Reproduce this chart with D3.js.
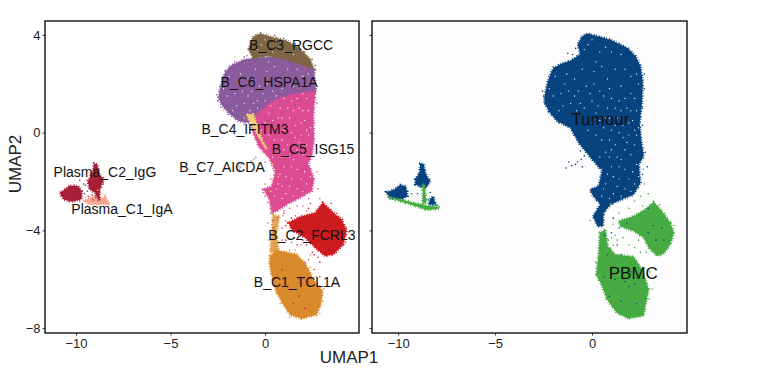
<!DOCTYPE html>
<html>
<head>
<meta charset="utf-8">
<script src="https://cdn.jsdelivr.net/npm/d3@7"></script>
<style>
  body { margin: 0; background: #fff; }
  text { font-family: "Liberation Sans", Arial, sans-serif; }
</style>
</head>
<body>
<svg id="chart" width="757" height="371"></svg>
<script>
// cluster outlines and dots, all in UMAP units
const brown_outline = [[-0.88,3.42],[-0.62,3.93],[-0.26,4.06],[0.35,3.92],[1.15,3.76],[1.85,3.42],[2.38,3.01],[2.59,2.6],[1.85,2.8],[0.97,3.03],[0.09,3.14],[-0.62,3.03]];
const purple_outline = [[-2.47,1.43],[-2.38,1.84],[-2.17,2.39],[-1.85,2.73],[-1.15,2.98],[-0.44,3.07],[0.62,3.11],[1.85,2.87],[2.59,2.57],[2.7,1.64],[1.5,1.5],[0.62,1.3],[0.09,0.96],[-0.44,0.68],[-0.88,0.41],[-1.41,0.48],[-1.85,0.75],[-2.24,1.07]];
const pink_outline = [[0.09,1.09],[0.62,1.37],[1.5,1.57],[2.65,1.71],[2.56,0.68],[2.59,-0.27],[2.47,-0.96],[2.29,-1.23],[2.59,-1.91],[2.47,-2.39],[1.85,-2.66],[1.15,-2.94],[0.62,-3.21],[0.35,-3.28],[0.23,-2.73],[-0.09,-2.32],[0.35,-2.19],[0.53,-1.64],[0.26,-1.09],[-0.35,-0.55],[-0.71,0.14],[-0.44,0.75]];
const yellow_outline = [[-0.97,0.75],[-0.62,0.75],[-0.1,-0.4],[0.09,-0.68],[-0.26,-0.27],[-0.79,0.41]];
const red_outline = [[3.62,-3.28],[4.06,-3.55],[4.32,-4.03],[4.14,-4.58],[3.62,-4.99],[3.17,-5.05],[2.65,-4.71],[2.12,-4.3],[1.41,-3.96],[1.23,-3.69],[1.85,-3.44],[2.65,-3.28],[3.05,-2.87],[3.35,-3.07]];
const orange_outline = [[0.26,-5.05],[0.62,-4.81],[1.68,-4.99],[2.17,-5.4],[2.56,-6.01],[3.05,-6.49],[2.95,-7.04],[2.73,-7.45],[1.94,-7.62],[1.32,-7.45],[0.97,-7.04],[0.62,-6.56],[0.35,-5.87],[0.23,-5.33]];
const orange_tail = [[0.41,-3.35],[0.76,-3.42],[0.62,-4.1],[0.71,-4.85],[0.26,-4.92],[0.35,-4.1]];
const igg_outline1 = [[-10.85,-2.46],[-10.58,-2.32],[-10.32,-2.16],[-9.88,-2.19],[-9.7,-2.39],[-9.7,-2.73],[-10.23,-2.83],[-10.67,-2.73]];
const igg_outline2 = [[-9.38,-1.98],[-9.17,-1.71],[-9.03,-1.26],[-8.87,-1.3],[-8.77,-1.71],[-8.52,-1.91],[-8.73,-2.32],[-8.77,-2.8],[-8.99,-2.46],[-9.29,-2.32]];
const iga_outline = [[-9.61,-2.8],[-8.91,-2.53],[-8.64,-2.73],[-8.47,-2.6],[-8.2,-2.94],[-9.26,-2.94]];

const tumour_outline = [[-2.46,1.43],[-2.32,1.98],[-2.15,2.39],[-1.98,2.66],[-1.55,2.83],[-1.12,2.94],[-0.6,3.21],[-0.74,3.62],[-0.52,3.93],[-0.26,4.06],[0.26,3.96],[0.95,3.8],[1.81,3.48],[2.24,3.14],[2.5,2.73],[2.62,2.05],[2.58,1.23],[2.46,0.41],[2.53,-0.27],[2.67,-0.96],[2.41,-1.3],[2.5,-2.05],[2.15,-2.53],[1.55,-2.73],[0.95,-2.94],[0.6,-3.28],[0.57,-3.83],[0.29,-3.83],[0.05,-3.42],[0.43,-2.94],[0,-2.53],[-0.09,-2.32],[0.34,-2.19],[0.52,-1.57],[0,-1.09],[-0.69,-0.41],[-1.12,0.2],[-1.81,0.48],[-2.24,0.89],[-2.44,1.23]];
const tumour_plasma1 = [[-10.62,-2.43],[-10.24,-2.35],[-9.9,-2.14],[-9.59,-2.21],[-9.52,-2.6],[-9.81,-2.73],[-10.41,-2.69]];
const tumour_plasma2 = [[-9.12,-1.91],[-8.9,-1.64],[-8.86,-1.27],[-8.69,-1.27],[-8.57,-1.71],[-8.35,-1.98],[-8.55,-2.25],[-8.86,-2.21],[-9.12,-2.12]];
const tumour_plasma3 = [[-8.35,-2.73],[-8.21,-2.6],[-8.05,-2.94],[-8.43,-2.94]];
const pbmc_lower = [[0.21,-5.81],[0.34,-4.99],[0.4,-4.1],[0.69,-3.96],[0.81,-4.64],[1.2,-4.99],[2.15,-5.08],[2.58,-5.6],[2.93,-6.42],[2.75,-7.1],[2.67,-7.49],[1.89,-7.61],[1.29,-7.38],[0.77,-6.83],[0.52,-6.28]];
const pbmc_right = [[4.04,-3.69],[4.22,-4.1],[4.04,-4.58],[3.7,-4.95],[3.36,-5.05],[2.93,-4.71],[2.67,-4.3],[2.15,-4.03],[1.46,-3.83],[1.38,-3.62],[2.15,-3.42],[2.75,-3.14],[3.18,-2.84],[3.61,-3.21]];
const pbmc_plasma1 = [[-10.55,-2.62],[-9.9,-2.73],[-9.2,-2.87],[-8.6,-2.98],[-7.92,-3.03],[-7.88,-3.11],[-8.52,-3.17],[-9.2,-2.98],[-10.07,-2.77]];
const pbmc_plasma2 = [[-8.74,-2.12],[-8.64,-2.12],[-8.55,-2.87],[-8.73,-2.9]];

// small holes in the dense clouds
const holes = [[-1.9,2.3],[-1.5,1.1],[-1.2,1.7],[-0.9,2.2],[-0.6,1.2],[-0.3,1.9],[0.1,2.5],[0.4,1.7],[0.8,2.2],[1.2,2.6],[1.5,1.9],[2.0,2.3],[2.2,1.4],[1.8,1.0],[1.3,0.6],[0.8,1.0],[0.4,0.5],[1.0,0.1],[1.6,0.3],[2.1,0.5],[2.3,-0.1],[1.8,-0.4],[1.2,-0.5],[0.7,-0.8],[1.5,-1.1],[2.0,-0.9],[1.0,-1.4],[0.7,-2.1],[1.4,-1.9],[2.1,-1.6],[1.7,-2.3],[1.1,-2.5],[-2.0,1.5],[-1.7,0.9],[-0.8,0.9],[0.0,1.3],[0.2,2.9],[0.7,3.5],[-0.2,3.6],[1.5,3.2],[-1.3,2.4],[-0.5,2.6],[0.5,2.7],[2.4,2.0],[1.9,-0.1],[0.9,0.6],[2.2,-2.1],[0.5,-2.6],[1.3,-1.0],[1.7,1.4],
  [-2.2,1.8],[-1.6,1.6],[-1.1,1.2],[-0.9,1.5],[-0.4,1.0],[-0.1,1.6],[0.3,1.1],[0.6,1.5],[1.0,1.4],[1.2,1.0],[1.5,0.9],[2.0,0.9],[2.3,0.9],[0.6,0.2],[0.2,-0.1],[0.0,0.4],[-0.2,0.1],[0.5,-0.3],[0.9,-0.3],[1.4,0.0],[1.7,-0.7],[2.2,-0.5],[2.4,0.2],[0.4,-1.0],[0.9,-1.0],[1.1,-1.8],[1.7,-1.5],[1.9,-1.9],[2.3,-1.3],[0.8,-1.7],[1.3,-2.2],[2.0,-2.4],[0.9,-2.7],[0.6,-2.3],[1.5,-2.6],[2.4,-1.8],[1.2,0.3],[1.9,0.4],[2.2,0.1],[1.6,-0.2],[1.0,-0.7],[1.4,-1.4],[0.5,-1.5],[2.0,1.6],[1.4,1.3],[0.7,0.6],[0.2,0.8],[-1.4,2.0],[-0.7,1.7],[0.1,2.0],[0.9,1.8],[1.7,2.6],[2.3,2.4],[0.4,3.3],[1.0,3.3],[0.0,3.8],[-0.4,3.4]];

// dots of one cluster sitting inside the neighbouring one
const purple_in_pink = [[0.4,0.9],[0.7,1.1],[1.0,1.2],[1.3,1.35],[1.8,1.3],[0.2,0.5],[0.5,0.65],[0.0,0.7],[-0.2,0.4],[0.9,0.85],[2.2,1.2],[1.6,1.15]];
const pink_in_purple = [[0.5,1.6],[0.9,1.65],[1.3,1.75],[1.8,1.8],[2.3,1.85],[2.5,2.1],[1.2,2.0],[1.6,2.2],[0.2,1.3],[-0.1,1.0],[-0.3,0.85],[2.1,2.6],[0.7,1.95]];

const brown_dots = [[-0.95,3.15],[-0.78,3.3],[-0.45,3.85],[0.5,3.98],[1.0,3.85],[1.6,3.65],[2.1,3.3],[2.5,3.0],[2.65,2.75]];
const purple_dots = [[-2.55,1.55],[-2.5,1.3],[-2.4,1.9],[-2.35,1.05],[-2.1,2.55],[-1.95,0.75],[-1.6,2.9],[-1.55,0.6],[-1.1,3.1],[-1.1,0.35],[-0.7,0.3],[-0.3,3.2],[0.3,-3.3],[0.4,-3.6],[0.45,-3.9],[-0.1,-2.45],[0.0,-2.6],[0.15,-2.85]];
const pink_dots = [[2.75,1.2],[2.6,0.4],[2.7,-0.5],[2.5,-0.8],[2.75,-1.6],[2.8,-2.3],[2.3,-2.7],[1.7,-3.0],[1.0,-3.2],[-0.3,-0.5],[0.0,-1.2],[0.3,-1.9],[0.0,-2.1],[2.2,-3.2],[2.9,-2.7],[1.6,-3.4],[1.1,-3.6],[0.9,-3.9],[1.9,-4.6],[2.4,-5.0],[2.1,-5.3],[1.4,-4.5],[1.3,-3.1],[2.0,-3.0],[0.7,-3.5],[0.9,-4.4]];
const red_dots = [[1.1,-3.8],[1.5,-4.3],[1.9,-4.1],[2.2,-4.6],[2.6,-5.0],[2.9,-5.3],[2.6,-5.6],[2.9,-5.9],[2.3,-5.2],[3.5,-2.9],[3.8,-3.3],[4.3,-3.9],[4.25,-4.5],[3.0,-3.0],[1.2,-6.3],[1.8,-6.7],[2.3,-6.1],[1.5,-7.0],[2.1,-7.2],[0.9,-5.6],[2.4,-2.9],[1.0,-3.3],[1.4,-3.5],[2.3,-3.1],[2.0,-4.4],[2.5,-4.9],[2.8,-5.1],[1.1,-4.4],[1.7,-4.6]];
const orange_dots = [[0.2,-4.4],[0.15,-3.7],[0.3,-5.5],[0.5,-6.3],[0.8,-7.0],[3.1,-6.4],[3.05,-6.9],[2.9,-7.4],[2.7,-5.9],[1.3,-7.55],[2.4,-5.5],[1.0,-4.5],[1.3,-4.8],[0.95,-3.4],[1.6,-4.8],[1.1,-4.9]];
const yellow_dots = [[-1.1,0.6],[-0.6,-0.2],[-0.2,-0.8],[0.1,-1.0],[0.4,-1.3],[0.7,-1.8],[0.9,-2.2],[0.3,-2.4],[-0.4,1.3],[-1.6,3.1],[-2.2,0.9],[0.5,-3.7],[0.6,-3.9],[0.7,-4.3]];
const grey_dots = [[-1.5,-1.45],[-1.4,-1.38],[-1.3,-1.42],[-1.25,-1.3],[-1.15,-1.25],[-0.75,-1.15],[-0.6,-1.1],[-0.5,-1.02],[-0.65,-1.2],[-1.35,-1.5]];
const plasma_dots = [[-9.6,-2.1],[-9.4,-2.4],[-9.35,-2.6],[-9.15,-2.55],[-9.55,-2.5],[-9.8,-1.95],[-9.5,-2.15],[-8.55,-2.1],[-9.1,-2.75],[-8.95,-2.65]];
const iga_dots = [[-9.8,-2.85],[-9.5,-2.65],[-9.1,-2.7],[-8.6,-2.5],[-8.85,-2.35],[-8.4,-2.85],[-9.4,-3.0]];

const blue_dots = [[-2.5,1.5],[-2.45,1.2],[-2.55,1.7],[-2.25,0.85],[-1.7,0.4],[-1.35,0.3],[-2.0,0.7],[-1.0,3.2],[-1.25,3.25],[-0.85,3.45],[2.7,2.4],[2.7,1.8],[2.6,1.0],[2.6,0.3],[2.75,-0.8],[2.85,-1.4],[2.6,-1.7],[-0.4,-0.95],[-0.6,-0.75],[-0.55,-1.1],[-0.75,-1.2],[-1.05,-1.35],[-1.2,-1.2],[-1.35,-1.45],[-0.85,-1.3],[-0.5,-1.4],[0.65,-4.2],[1.1,-3.5],[1.4,-3.9],[1.8,-3.7],[2.9,-3.1],[3.15,-3.8],[3.6,-3.9],[3.3,-4.4],[3.7,-4.4],[2.9,-4.1],[1.0,-4.1],[1.3,-4.6],[1.5,-5.0],[0.8,-5.0],[0.6,-5.9],[1.1,-5.5],[1.7,-6.1],[1.9,-6.3],[2.2,-6.2],[0.9,-6.7],[1.5,-6.9],[2.3,-7.0],[1.2,-6.0],[2.0,-5.7],[-9.7,-2.2],[-9.5,-2.4],[-9.3,-2.5],[-9.0,-2.5],[-8.35,-2.45],[-8.2,-2.65],[-8.45,-2.75]];
const green_dots = [[2.7,-2.1],[2.9,-2.5],[2.5,-2.6],[2.2,-2.8],[2.6,-3.0],[1.9,-3.1],[1.4,-3.3],[1.1,-3.75],[1.0,-4.3],[1.3,-4.4],[1.6,-4.3],[1.9,-4.6],[2.2,-4.7],[2.5,-4.9],[0.95,-4.75],[3.0,-5.7],[3.1,-6.4],[2.95,-6.8],[0.2,-5.3],[1.2,-4.2],[1.7,-3.9],[3.5,-2.95],[4.25,-3.8],[-0.1,-3.6],[0.95,-2.9],[1.5,-2.7],[2.65,-1.5],[0.85,-4.4],[1.1,-4.6],[2.8,-4.9],[2.4,-4.4]];

// cluster labels and axis text
const cluster_labels = ["B_C3_RGCC","B_C6_HSPA1A","B_C4_IFITM3","B_C5_ISG15","B_C7_AICDA","Plasma_C2_IgG","Plasma_C1_IgA","B_C2_FCRL3","B_C1_TCL1A"];
const cluster_label_pos = [[1.38,3.57],[0.21,2.09],[-1.06,0.16],[2.54,-0.66],[-2.28,-1.39],[-8.47,-1.59],[-7.57,-3.11],[2.48,-4.18],[1.69,-6.11]];
const tissue_labels = ["Tumour","PBMC"];
const tissue_label_pos = [[0.43,0.57],[2.13,-5.74]];
const x_ticks = [-10,-5,0];
const y_ticks = [-8,-4,0,4];

const svg = d3.select("#chart");

// left panel and right panel have slightly different x ranges
const y = d3.scaleLinear().domain([-8.2, 4.57]).range([333, 21]);
const x_left = d3.scaleLinear().domain([-11.64, 4.97]).range([45, 359]);
const x_right = d3.scaleLinear().domain([-11.35, 4.9]).range([372, 687]);

function blob(g, pts, color, x) {
  // dashed stroke in the fill colour makes the edge look like loose points
  g.append("path")
    .attr("d", d3.line().x(d => x(d[0])).y(d => y(d[1])).curve(d3.curveLinearClosed)(pts))
    .attr("fill", color)
    .attr("stroke", color)
    .attr("stroke-width", 2.6)
    .attr("stroke-dasharray", "1.1 1.5 0.7 2.1 1.3 1.2 0.8 1.7");
}

function dots(g, pts, color, x, r) {
  g.selectAll(null)
    .data(pts)
    .enter()
    .append("circle")
    .attr("cx", d => x(d[0]))
    .attr("cy", d => y(d[1]))
    .attr("r", r)
    .attr("fill", color);
}

function panel(x, bg) {
  let g = svg.append("g");
  g.append("rect")
    .attr("x", x.range()[0]).attr("y", 21)
    .attr("width", x.range()[1] - x.range()[0]).attr("height", 312)
    .attr("fill", bg);
  return g;
}

function frame(x, showY) {
  let g = svg.append("g");
  let ax = g.append("g")
    .attr("transform", "translate(0,333)")
    .call(d3.axisBottom(x).tickValues(x_ticks).tickSize(2.5).tickPadding(3));
  let ay = g.append("g")
    .attr("transform", `translate(${x.range()[0]},0)`)
    .call(d3.axisLeft(y).tickValues(y_ticks).tickSize(2.5).tickPadding(2)
      .tickFormat(showY ? null : ""));
  [ax, ay].forEach(a => {
    a.select(".domain").remove();
    a.selectAll("line").attr("stroke", "#333");
    a.selectAll("text").attr("fill", "#222").style("font-size", "13px");
  });
  g.append("rect")
    .attr("x", x.range()[0]).attr("y", 21)
    .attr("width", x.range()[1] - x.range()[0]).attr("height", 312)
    .attr("fill", "none")
    .attr("stroke", "#111")
    .attr("stroke-width", 1.4);
}

function labels(g, names, pos, x, size) {
  g.selectAll(null)
    .data(names)
    .enter()
    .append("text")
    .attr("x", (d, i) => x(pos[i][0]))
    .attr("y", (d, i) => y(pos[i][1]))
    .attr("dy", "0.36em")
    .attr("text-anchor", "middle")
    .attr("fill", "#111")
    .style("font-size", size + "px")
    .text(d => d);
}

// left panel, coloured by cluster
const left = panel(x_left, "#fff");
blob(left, purple_outline, "#8a5c9e", x_left);
blob(left, brown_outline, "#7d6646", x_left);
blob(left, pink_outline, "#dd4b92", x_left);
blob(left, yellow_outline, "#f6cd78", x_left);
blob(left, orange_tail, "#e3a24f", x_left);
blob(left, orange_outline, "#d98a2c", x_left);
blob(left, red_outline, "#cd1b20", x_left);
blob(left, iga_outline, "#f4a78f", x_left);
blob(left, igg_outline1, "#a71f36", x_left);
blob(left, igg_outline2, "#a71f36", x_left);
dots(left, purple_in_pink, "#8a5c9e", x_left, 0.9);
dots(left, pink_in_purple, "#dd4b92", x_left, 0.9);
dots(left, holes, "#fff", x_left, 0.65);
dots(left, brown_dots, "#7d6646", x_left, 0.8);
dots(left, purple_dots, "#8a5c9e", x_left, 0.8);
dots(left, pink_dots, "#dd4b92", x_left, 0.8);
dots(left, red_dots, "#cd1b20", x_left, 0.8);
dots(left, orange_dots, "#d98a2c", x_left, 0.8);
dots(left, yellow_dots, "#f6cd78", x_left, 0.8);
dots(left, grey_dots, "#a9b4b4", x_left, 1);
dots(left, plasma_dots, "#a71f36", x_left, 0.8);
dots(left, iga_dots, "#f4a78f", x_left, 0.8);
labels(left, cluster_labels, cluster_label_pos, x_left, 14);
frame(x_left, true);

// right panel, coloured by tissue
const right = panel(x_right, "#fdfdfd");
blob(right, tumour_outline, "#06437f", x_right);
blob(right, tumour_plasma1, "#06437f", x_right);
blob(right, tumour_plasma2, "#06437f", x_right);
blob(right, tumour_plasma3, "#06437f", x_right);
blob(right, pbmc_plasma1, "#46ab42", x_right);
blob(right, pbmc_plasma2, "#46ab42", x_right);
blob(right, pbmc_lower, "#46ab42", x_right);
blob(right, pbmc_right, "#46ab42", x_right);
dots(right, holes, "#fdfdfd", x_right, 0.65);
dots(right, green_dots, "#46ab42", x_right, 0.8);
dots(right, blue_dots, "#06437f", x_right, 0.8);
labels(right, tissue_labels, tissue_label_pos, x_right, 17);
frame(x_right, false);

// axis titles
svg.append("text")
  .attr("x", 349).attr("y", 363)
  .attr("text-anchor", "middle")
  .attr("fill", "#222")
  .style("font-size", "17px")
  .text("UMAP1");

svg.append("text")
  .attr("transform", "translate(21,164) rotate(-90)")
  .attr("text-anchor", "middle")
  .attr("fill", "#222")
  .style("font-size", "17px")
  .text("UMAP2");
</script>
</body>
</html>
